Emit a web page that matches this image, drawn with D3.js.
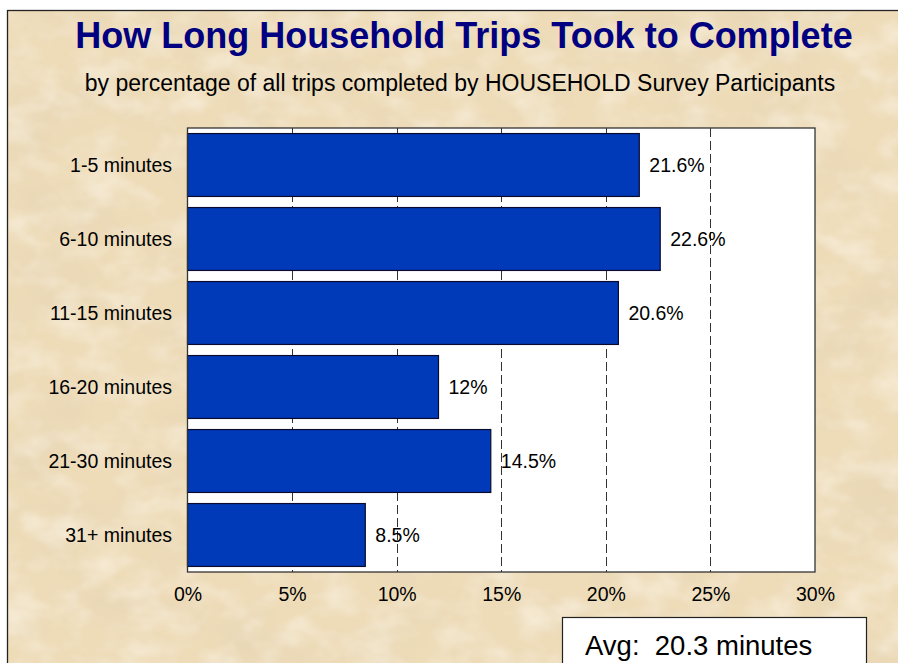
<!DOCTYPE html>
<meta charset="utf-8">
<head>
  <title>How Long Household Trips Took to Complete</title>
</head>
<script src="https://d3js.org/d3.v7.min.js"></script>
<style>
  body { margin: 0; background: #fff; }
  text { font-family: Arial, "Liberation Sans", sans-serif; }
</style>

<div id="chart"></div>

<script>
  // data
  var categories = ["1-5 minutes", "6-10 minutes", "11-15 minutes", "16-20 minutes", "21-30 minutes", "31+ minutes"];
  var percents = [21.6, 22.6, 20.6, 12, 14.5, 8.5];
  var xTicks = [0, 5, 10, 15, 20, 25, 30];
  var gridTicks = [5, 10, 15, 20, 25];
  var avgText = "Avg:  20.3 minutes";

  var W = 898, H = 663;
  var plot = {left: 187.5, right: 815, top: 128, bottom: 572};

  var svg = d3.select("#chart")
    .append("svg")
      .attr("width", W)
      .attr("height", H);

  // parchment background (two noise layers: dark blotches + light blotches)
  var defs = svg.append("defs");
  var f = defs.append("filter")
    .attr("id", "paper")
    .attr("x", 0).attr("y", 0).attr("width", 1).attr("height", 1);
  f.append("feTurbulence")
    .attr("type", "fractalNoise")
    .attr("baseFrequency", "0.011 0.016")
    .attr("numOctaves", 4)
    .attr("seed", 7);
  f.append("feColorMatrix")
    .attr("type", "matrix")
    .attr("values", "0 0 0 0 0.80  0 0 0 0 0.67  0 0 0 0 0.46  2.0 0 0 0 -0.88");

  var f2 = defs.append("filter")
    .attr("id", "paper2")
    .attr("x", 0).attr("y", 0).attr("width", 1).attr("height", 1);
  f2.append("feTurbulence")
    .attr("type", "fractalNoise")
    .attr("baseFrequency", "0.025 0.035")
    .attr("numOctaves", 3)
    .attr("seed", 21);
  f2.append("feColorMatrix")
    .attr("type", "matrix")
    .attr("values", "0 0 0 0 0.96  0 0 0 0 0.90  0 0 0 0 0.79  1.3 0 0 0 -0.55");

  svg.append("rect")
    .attr("x", 7.5).attr("y", 10.5)
    .attr("width", W).attr("height", H)
    .attr("fill", "#eedcb9");
  svg.append("rect")
    .attr("x", 7.5).attr("y", 10.5)
    .attr("width", W).attr("height", H)
    .attr("filter", "url(#paper)");
  svg.append("rect")
    .attr("x", 7.5).attr("y", 10.5)
    .attr("width", W).attr("height", H)
    .attr("filter", "url(#paper2)");
  svg.append("rect")
    .attr("x", 7.5).attr("y", 10.5)
    .attr("width", W).attr("height", H)
    .attr("fill", "none")
    .attr("stroke", "#222")
    .attr("stroke-width", 1.3);

  // titles
  svg.append("text")
    .attr("x", 464).attr("y", 47.5)
    .attr("text-anchor", "middle")
    .style("font-size", "36px")
    .style("font-weight", "bold")
    .style("fill", "#000080")
    .text("How Long Household Trips Took to Complete");
  svg.append("text")
    .attr("x", 460).attr("y", 90.5)
    .attr("text-anchor", "middle")
    .style("font-size", "23px")
    .style("fill", "#000")
    .text("by percentage of all trips completed by HOUSEHOLD Survey Participants");

  // scales
  var x = d3.scaleLinear()
    .domain([0, 30])
    .range([plot.left, plot.right]);
  var y = d3.scaleBand()
    .domain(categories)
    .range([plot.top, plot.bottom])
    .paddingInner(0.15)
    .paddingOuter(0.075);

  // plot area
  svg.append("rect")
    .attr("x", plot.left).attr("y", plot.top)
    .attr("width", plot.right - plot.left)
    .attr("height", plot.bottom - plot.top)
    .attr("fill", "#fff");

  // dashed gridlines
  svg.append("g")
    .selectAll("line")
    .data(gridTicks)
    .enter().append("line")
      .attr("x1", function(d) { return Math.round(x(d)) + 0.5; })
      .attr("x2", function(d) { return Math.round(x(d)) + 0.5; })
      .attr("y1", plot.top)
      .attr("y2", plot.bottom)
      .attr("stroke", "#333")
      .attr("stroke-width", 1)
      .attr("stroke-dasharray", "9,4");

  // bars
  svg.append("g")
    .selectAll("rect")
    .data(percents)
    .enter().append("rect")
      .attr("x", x(0))
      .attr("y", function(d, i) { return y(categories[i]); })
      .attr("width", function(d) { return x(d) - x(0); })
      .attr("height", y.bandwidth())
      .attr("fill", "#003ab8")
      .attr("stroke", "#0a0a30")
      .attr("stroke-width", 1.2);

  // value labels
  svg.append("g")
    .selectAll("text")
    .data(percents)
    .enter().append("text")
      .attr("x", function(d) { return x(d) + 10; })
      .attr("y", function(d, i) { return y(categories[i]) + y.bandwidth() / 2; })
      .attr("dy", "0.36em")
      .style("font-size", "19.5px")
      .style("fill", "#000")
      .text(function(d) { return d + "%"; });

  // plot border
  svg.append("rect")
    .attr("x", plot.left).attr("y", plot.top)
    .attr("width", plot.right - plot.left)
    .attr("height", plot.bottom - plot.top)
    .attr("fill", "none")
    .attr("stroke", "#333")
    .attr("stroke-width", 1.3);

  // axes
  var xAxis = svg.append("g")
    .attr("transform", "translate(0," + plot.bottom + ")")
    .call(d3.axisBottom(x).tickValues(xTicks).tickFormat(function(d) { return d + "%"; }).tickSize(0).tickPadding(15));
  xAxis.select(".domain").remove();
  xAxis.selectAll("text")
    .style("font-size", "19.5px")
    .style("font-family", "Arial, 'Liberation Sans', sans-serif")
    .style("fill", "#000");

  var yAxis = svg.append("g")
    .attr("transform", "translate(" + plot.left + ",0)")
    .call(d3.axisLeft(y).tickSize(0).tickPadding(15.5));
  yAxis.select(".domain").remove();
  yAxis.selectAll("text")
    .attr("dy", "0.36em")
    .style("font-size", "19.5px")
    .style("font-family", "Arial, 'Liberation Sans', sans-serif")
    .style("fill", "#000");

  // average box
  svg.append("rect")
    .attr("x", 562.5).attr("y", 617.5)
    .attr("width", 304).attr("height", 80)
    .attr("fill", "#fff")
    .attr("stroke", "#222")
    .attr("stroke-width", 1.2);
  svg.append("text")
    .attr("x", 585).attr("y", 655)
    .style("font-size", "27.5px")
    .style("white-space", "pre")
    .style("fill", "#000")
    .text(avgText);
</script>
